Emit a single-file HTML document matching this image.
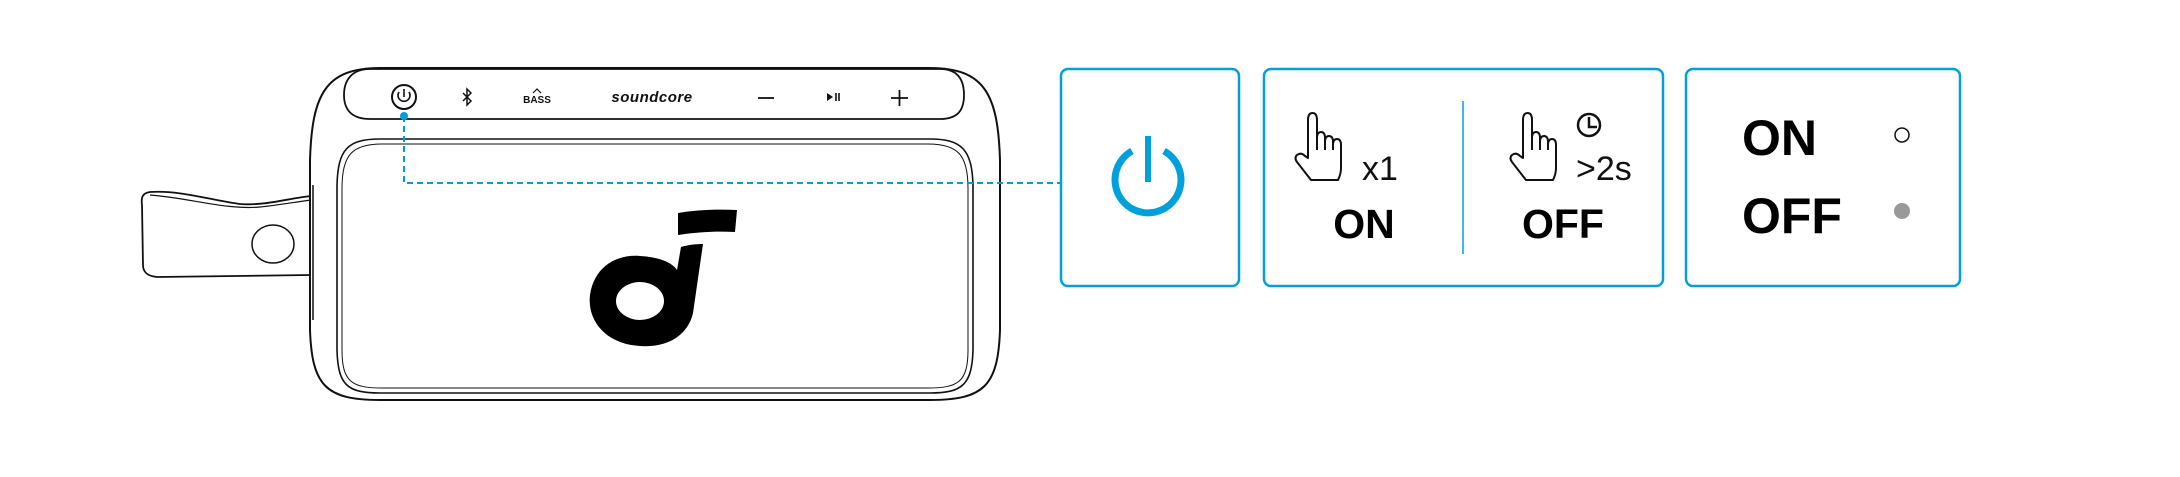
<!DOCTYPE html>
<html><head><meta charset="utf-8"><style>
html,body{margin:0;padding:0;background:#fff;}
body{width:2180px;height:477px;position:relative;overflow:hidden;font-family:"Liberation Sans",sans-serif;}
</style></head><body>
<svg width="2180" height="477" viewBox="0 0 2180 477" xmlns="http://www.w3.org/2000/svg" style="position:absolute;left:0;top:0">
<defs>
<g id="hand" fill="none" stroke="#111" stroke-width="2" stroke-linejoin="round">
<path d="M14,46 L14,8 Q14,1 18.5,1 Q23,1 23,8 L23,26 Q23,20 27,20 Q31,20 31,26 L31,30 Q31,24 35,24 Q39,24 39,30 L39,33 Q39,27 43,27 Q47,27 47,33 L47,56 Q47,62 44,68 L17,68 L3,50 Q0,46 3,43 Q7,40 11,44 Z"/>
<path d="M23,26 L23,38 M31,30 L31,38 M39,33 L39,38"/>
</g>
</defs>
<!-- strap -->
<path d="M311,196 C290,198 265,206 240,204 C210,200 180,190 150,192 C142,193 141,198 142,205 L143,265 C143,272 147,276 157,277 L311,275" fill="none" stroke="#111" stroke-width="1.8"/>
<path d="M150,195 C190,198 225,210 260,207 C280,205 295,202 311,200" fill="none" stroke="#111" stroke-width="1.2"/>
<ellipse cx="273" cy="244" rx="21" ry="19" fill="none" stroke="#111" stroke-width="1.5"/>
<!-- body -->
<path d="M380,68 L930,68 C985,68 998,95 1000,160 L1000,330 C998,385 985,400 930,400 L380,400 C325,400 312,385 310,330 L310,160 C312,95 325,68 380,68 Z" fill="#fff" stroke="#111" stroke-width="2"/>
<path d="M313,185 L313,320" stroke="#111" stroke-width="1.5"/>
<!-- top panel -->
<path d="M370,69 L940,69 C958,69 964,80 964,95 C964,110 958,119 940,119 L370,119 C352,119 344,110 344,95 C344,80 352,69 370,69 Z" fill="none" stroke="#111" stroke-width="1.8"/>
<!-- grille -->
<path d="M380,139 L930,139 C962,139 972,150 973,185 L973,350 C972,385 962,393 930,393 L380,393 C347,393 338,385 337,350 L337,185 C338,150 347,139 380,139 Z" fill="none" stroke="#111" stroke-width="1.6"/>
<path d="M382,144 L928,144 C958,144 968,155 968,188 L968,350 C968,382 958,388 928,388 L382,388 C352,388 342,382 342,350 L342,188 C342,155 352,144 382,144 Z" fill="none" stroke="#111" stroke-width="1"/>
<!-- top icons -->
<circle cx="404" cy="97" r="12" fill="none" stroke="#111" stroke-width="2"/>
<path d="M399,92 A6,6 0 1 0 409,92" fill="none" stroke="#111" stroke-width="1.6"/>
<path d="M404,89 L404,97" stroke="#111" stroke-width="1.6"/>
<path d="M463,93 L471,101 L467,105 L467,89 L471,93 L463,101" fill="none" stroke="#111" stroke-width="1.5"/>
<text x="537" y="103" font-size="10" font-weight="bold" text-anchor="middle" fill="#111">BASS</text>
<path d="M533,93 L537,89 L541,93" fill="none" stroke="#111" stroke-width="1.2"/>
<text x="652" y="102" font-size="15" font-weight="bold" font-style="italic" text-anchor="middle" fill="#111" letter-spacing="0.5">soundcore</text>
<path d="M758,98 L774,98" stroke="#111" stroke-width="1.8"/>
<path d="M827,93 L833,97 L827,101 Z" fill="#111"/><path d="M836,93 L836,101 M839,93 L839,101" stroke="#111" stroke-width="1.6"/>
<path d="M891,98 L908,98 M899.5,90 L899.5,106" stroke="#111" stroke-width="1.8"/>
<!-- logo -->
<path d="M678,213 C695,210 715,209 737,210 L735,232 C717,231 697,232 678,235 Z" fill="#000"/>
<path d="M681,247 C688,245 695,244 703,244 L693,313 C688,335 668,348 640,346 C605,344 587,320 590,295 C594,268 615,254 640,256 C658,257 672,262 677,270 Z" fill="#000"/>
<ellipse cx="640" cy="301" rx="24" ry="19" fill="#fff"/>
<!-- connector -->
<circle cx="404" cy="116" r="4" fill="#009fd9"/>
<path d="M404,116 L404,183 L1061,183" fill="none" stroke="#009fd9" stroke-width="2" stroke-dasharray="6,4"/>
<!-- boxes -->
<rect x="1061" y="69" width="178" height="217" rx="7" fill="none" stroke="#00a0dc" stroke-width="2.5"/>
<rect x="1264" y="69" width="399" height="217" rx="7" fill="none" stroke="#00a0dc" stroke-width="2.5"/>
<rect x="1686" y="69" width="274" height="217" rx="7" fill="none" stroke="#00a0dc" stroke-width="2.5"/>
<!-- power icon -->
<path d="M1132,151 A33,33 0 1 0 1164,151" fill="none" stroke="#00a0dc" stroke-width="7"/>
<path d="M1148,136 L1148,182" stroke="#00a0dc" stroke-width="6"/>
<!-- box2 -->
<path d="M1463,101 L1463,254" stroke="#00a0dc" stroke-width="1.5"/>
<use href="#hand" transform="translate(1294,112)"/>
<text x="1362" y="180" font-size="34" fill="#111">x1</text>
<text x="1364" y="238" font-size="41" font-weight="bold" text-anchor="middle" fill="#000">ON</text>
<use href="#hand" transform="translate(1509,112)"/>
<circle cx="1589" cy="125" r="11" fill="none" stroke="#111" stroke-width="2.5"/>
<path d="M1589,117 L1589,127 L1597,127" fill="none" stroke="#111" stroke-width="2.5"/>
<text x="1576" y="180" font-size="34" fill="#111">&gt;2s</text>
<text x="1563" y="238" font-size="41" font-weight="bold" text-anchor="middle" fill="#000">OFF</text>
<!-- box3 -->
<text x="1742" y="155" font-size="50" font-weight="bold" fill="#000">ON</text>
<text x="1742" y="233" font-size="50" font-weight="bold" fill="#000">OFF</text>
<circle cx="1902" cy="135" r="7" fill="none" stroke="#111" stroke-width="1.5"/>
<circle cx="1902" cy="211" r="8" fill="#999"/>
</svg>
</body></html>
